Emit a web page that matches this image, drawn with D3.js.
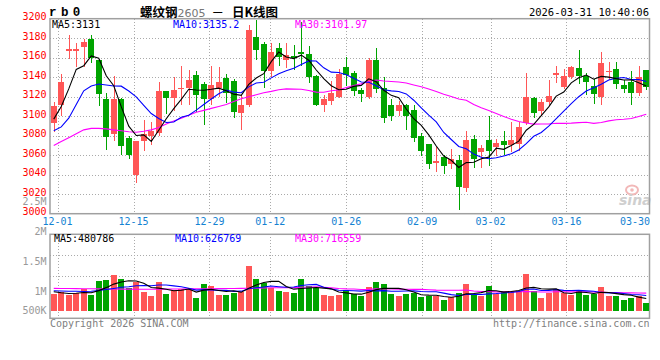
<!DOCTYPE html>
<html><head><meta charset="utf-8">
<script src="https://cdn.jsdelivr.net/npm/d3@7"></script>
<style>body{margin:0;background:#fff}svg{display:block}</style>
</head><body><svg id="c" width="660" height="360"></svg>
<script>
const dates = ["11-28",
"12-01","12-02","12-03","12-04","12-05","12-08","12-09","12-10","12-11","12-12","12-15","12-16","12-17","12-18","12-19","12-22","12-23","12-24","12-25","12-26","12-29","12-30","12-31",
"01-05","01-06","01-07","01-08","01-09","01-12","01-13","01-14","01-15","01-16","01-19","01-20","01-21","01-22","01-23","01-26","01-27","01-28","01-29","01-30",
"02-02","02-03","02-04","02-05","02-06","02-09","02-10","02-11","02-12","02-13","02-24","02-25","02-26","02-27",
"03-02","03-03","03-04","03-05","03-06","03-09","03-10","03-11","03-12","03-13","03-16","03-17","03-18","03-19","03-20","03-23","03-24","03-25","03-26","03-27","03-30","03-31"];
const open  = [3093,3111,3167,3167,3171,3179,3158,3118,3082,3118,3078,3040,3075,3080,3083,3126,3119,3128,3129,3142,3133,3118,3129,3139,3136,3103,3112,3181,3174,3146,3170,3158,3162,3165.5,3164,3141,3111,3116,3120,3150,3144,3127,3120,3158,3129,3112,3105,3111,3106,3080,3071,3053,3058,3051,3055,3026,3077,3063,3076,3068,3075,3070,3072,3093,3119,3105,3115,3143,3130,3140,3149,3141,3131,3120,3146,3148,3132,3135,3124,3147];
const high  = [3115,3143,3183,3175,3179,3183,3159,3124,3141,3119,3080,3075,3096,3094,3135,3126,3140,3151,3147,3146,3135,3151,3150,3143,3138,3122,3194,3199,3176,3175,3175,3175,3173,3197,3172,3142,3122,3136,3148,3161,3146,3129,3160,3170,3140,3118,3116,3113,3111,3083,3072,3068,3060,3066,3060,3085,3081,3070,3100,3077,3085,3094,3094,3144,3120,3118,3137,3152,3148,3151,3168,3144,3138,3166,3156,3156,3137,3146,3151,3147];
const low   = [3084,3100,3159,3150,3150,3155,3110,3065,3075,3060,3056,3031,3064,3070,3080,3102,3105,3111,3111,3104,3091,3112,3120,3114,3098,3086,3109,3158,3129,3140,3152,3149,3147,3152,3134,3110,3104,3111,3119,3131,3121,3115,3118,3124,3093,3095,3100,3086,3074,3059,3046,3043,3041,3046,3004,3022,3047,3047,3049,3059,3060,3063,3064,3091,3098,3100,3112,3134,3128,3138,3133,3122,3113,3111,3137,3128,3124,3111,3121,3127];
const close = [3110,3135,3169,3169,3176,3160,3123,3079,3118,3069,3060,3075,3082,3085,3126,3119,3127,3129,3137,3122,3118,3132,3135,3124,3104,3112,3188,3168,3146,3166,3161,3162.5,3160,3163.5,3140,3111,3118,3124,3143,3142,3126,3123,3158,3128,3098,3100,3111,3100,3078,3064,3051,3054,3049,3056,3027,3076,3056,3067,3064,3073,3070,3076,3089,3120,3103,3115,3121,3144,3141,3150,3141,3135,3123,3155,3146.5,3133,3128,3124,3140,3130];
const volume = [667000,760000,627000,720000,853000,627000,1187000,1227000,1427000,1267000,893000,1133000,760000,587000,1147000,667000,827000,853000,853000,520000,1067000,987000,627000,627000,693000,760000,1800000,1267000,1120000,920000,787000,760000,720000,1267000,1000000,893000,627000,587000,627000,827000,667000,600000,960000,1160000,1080000,667000,600000,667000,720000,533000,587000,587000,427000,560000,720000,1080000,667000,587000,987000,667000,800000,800000,800000,1467000,800000,520000,720000,867000,693000,627000,827000,627000,653000,947000,587000,600000,427000,520000,587000,320000];
const ma5Head  = [3097,3110,3128,3148];
const ma10Head = [3085,3089,3098,3112,3126,3131,3133,3132,3131];
const ma30Head = [3070,3074,3078,3082,3086,3087.5,3087.5,3087,3086,3085,3084,3083.5,3084.5,3086,3088.5,3092,3095,3098,3101,3104,3106,3108,3110,3112,3115,3118,3120,3122,3124];
const vma5Head  = [760000,720000,690000,700000];
const vma10Head = [800000,790000,780000,775000,770000,780000,810000,850000,890000];
const vma30Head = [893000,890000,887000,883000,880000,877000,873000,870000,867000,865000,862000,860000,860000,860000,862000,865000,867000,870000,872000,875000,877000,880000,883000,887000,890000,893000,897000,900000,905000];
const priceTicks = [3000,3020,3040,3060,3080,3100,3120,3140,3160,3180,3200];
const dateTicks = ["12-01","12-15","12-29","01-12","01-26","02-09","03-02","03-16","03-30"];
const volTickValues = [2500000,2000000,1500000,1000000,500000];
const volTickLabels = ["2.5M","2M","1.5M","1M","500K"];
const legendPrice = [["MA5:3131","#000"],["MA10:3135.2","#00f"],["MA30:3101.97","#f0f"]];
const legendVol = [["MA5:480786","#000"],["MA10:626769","#00f"],["MA30:716559","#f0f"]];

const RED="#ff5656", GREEN="#00a400", GRID="#aaaaaa", FRAME="#a0a0a0";
const MONO="'DejaVu Sans Mono', monospace";
const svg = d3.select("#c");
const L=50, R=649.5, T=18.7, B=213.7, VT=234.3, VB=318.3;

const x  = d3.scaleBand().domain(dates).range([50,650]).paddingInner(0.2).paddingOuter(0.1);
const xg = d3.scalePoint().domain(dates).range([50,650]);
const y  = d3.scaleLinear().domain([3000,3200]).range([213.7,18.7]);
const yv = d3.scaleLinear().domain([0,2000000]).range([310.7,260.7]);
const yvLab = d3.scaleLinear().domain([0,2500000]).range([351,201]);
const cx = d => x(d) + x.bandwidth()/2;

function ma(arr, n, head){
  return arr.map((v,i)=> i < n-1 ? head[i] : d3.mean(arr.slice(i-n+1,i+1)));
}
const ma5=ma(close,5,ma5Head), ma10=ma(close,10,ma10Head), ma30=ma(close,30,ma30Head);
const vma5=ma(volume,5,vma5Head), vma10=ma(volume,10,vma10Head), vma30=ma(volume,30,vma30Head);

// grids
const g = svg.append("g").attr("stroke",GRID).attr("stroke-dasharray","1,2").attr("shape-rendering","crispEdges");
priceTicks.filter(t=>t>3000&&t<3200).forEach(t=>{
  g.append("line").attr("x1",L).attr("x2",R).attr("y1",Math.round(y(t))+0.5).attr("y2",Math.round(y(t))+0.5);
});
dateTicks.filter(d=>d!=="03-30").forEach(d=>{
  const xx=Math.round(xg(d))+0.5;
  g.append("line").attr("x1",xx).attr("x2",xx).attr("y1",T).attr("y2",B);
  g.append("line").attr("x1",xx).attr("x2",xx).attr("y1",VT).attr("y2",VB);
});
[1,2].forEach(k=>{
  const yy=Math.round(VT+(VB-VT)*k/4)+0.5;
  g.append("line").attr("x1",L).attr("x2",R).attr("y1",yy).attr("y2",yy);
});

// watermark
const wm = svg.append("g");
wm.append("ellipse").attr("cx",632).attr("cy",190).attr("rx",6).attr("ry",4.5).attr("fill","none").attr("stroke","#f2b8b8").attr("stroke-width",2);
wm.append("circle").attr("cx",632).attr("cy",190).attr("r",1.8).attr("fill","#f2b8b8");
wm.append("text").attr("x",619).attr("y",205).attr("font-family","'DejaVu Sans'").attr("font-style","italic").attr("font-weight","bold").attr("font-size",14).attr("fill","#cfcfcf").text("sina");

// frames
const fr = svg.append("g").attr("fill","none").attr("stroke",FRAME).attr("stroke-width",1.5);
fr.append("rect").attr("x",L).attr("y",T).attr("width",R-L).attr("height",B-T);
fr.append("rect").attr("x",L).attr("y",VT).attr("width",R-L).attr("height",VB-VT);

// candles
const cg = svg.append("g").attr("shape-rendering","crispEdges");
dates.forEach((d,i)=>{
  const up = close[i] >= open[i];
  const col = up ? RED : GREEN;
  const xc = Math.round(cx(d))+0.5;
  cg.append("line").attr("x1",xc).attr("x2",xc).attr("y1",y(high[i])).attr("y2",y(low[i])).attr("stroke",col);
  const y0 = y(Math.max(open[i],close[i])), y1 = y(Math.min(open[i],close[i]));
  cg.append("rect").attr("x",Math.round(x(d))).attr("width",Math.round(x.bandwidth()))
    .attr("y",y0).attr("height",Math.max(1.5,y1-y0)).attr("fill",col);
  // volume
  cg.append("rect").attr("x",Math.round(x(d))).attr("width",Math.round(x.bandwidth()))
    .attr("y",yv(volume[i])).attr("height",yv(0)-yv(volume[i])).attr("fill",col);
});

// MA lines
const line = sc => d3.line().x((v,i)=>cx(dates[i])).y(v=>sc(v));
[[ma30,"#f0f"],[ma10,"#00f"],[ma5,"#000"]].forEach(([a,c])=>{
  svg.append("path").attr("d",line(y)(a)).attr("fill","none").attr("stroke",c).attr("stroke-width",1.1);
});
[[vma30,"#f0f"],[vma10,"#00f"],[vma5,"#000"]].forEach(([a,c])=>{
  svg.append("path").attr("d",line(yv)(a)).attr("fill","none").attr("stroke",c).attr("stroke-width",1.1);
});

// axis labels
const t = svg.append("g").attr("font-family",MONO).attr("font-size",10);
priceTicks.forEach(v=>{
  t.append("text").attr("x",46.5).attr("y",y(v)+1.6).attr("text-anchor","end").attr("fill","#f00").text(v);
});
volTickValues.forEach((v,i)=>{
  t.append("text").attr("x",46.5).attr("y",Math.min(yvLab(v),310.7)+3.6).attr("text-anchor","end").attr("fill","#999").text(volTickLabels[i]);
});
dateTicks.forEach(d=>{
  const half = d.length*6.02/2;
  const xx = Math.min(xg(d), 650-half);
  t.append("text").attr("x",xx).attr("y",225.2).attr("text-anchor","middle").attr("fill","#1482d2").text(d);
});
// legends
let lx=[52,173,295];
legendPrice.forEach(([s,c],i)=>t.append("text").attr("x",lx[i]).attr("y",27.6).attr("fill",c).text(s));
legendVol.forEach(([s,c],i)=>t.append("text").attr("x",[54,175,295][i]).attr("y",241.6).attr("fill",c).text(s));
t.append("text").attr("x",50).attr("y",327).attr("fill","#808080").text("Copyright 2026 SINA.COM");
t.append("text").attr("x",649.5).attr("y",327).attr("text-anchor","end").attr("fill","#808080").text("http://finance.sina.com.cn");
t.append("text").attr("x",649).attr("y",15.5).attr("text-anchor","end").attr("fill","#000").attr("font-size",10.5).text("2026-03-31 10:40:06");

// title
svg.append("text").attr("x",49).attr("y",16).attr("font-family","'Liberation Mono', monospace").attr("font-weight","bold")
  .attr("font-size",12.5).attr("letter-spacing",4.4).attr("fill","#000").text("rb0");
const tt = svg.append("text").attr("x",140).attr("y",16.5).attr("font-size",12.5).attr("fill","#000");
tt.append("tspan").attr("font-family","'Noto Sans CJK SC'").attr("font-weight","bold").text("螺纹钢");
tt.append("tspan").attr("font-family","'DejaVu Sans'").attr("font-size",11).attr("fill","#777").text("2605");
tt.append("tspan").attr("font-family","'Noto Sans CJK SC'").attr("dx",6).text("－");
tt.append("tspan").attr("font-family","'Noto Sans CJK SC'").attr("font-weight","bold").attr("dx",8).text("日K线图");
</script></body></html>
